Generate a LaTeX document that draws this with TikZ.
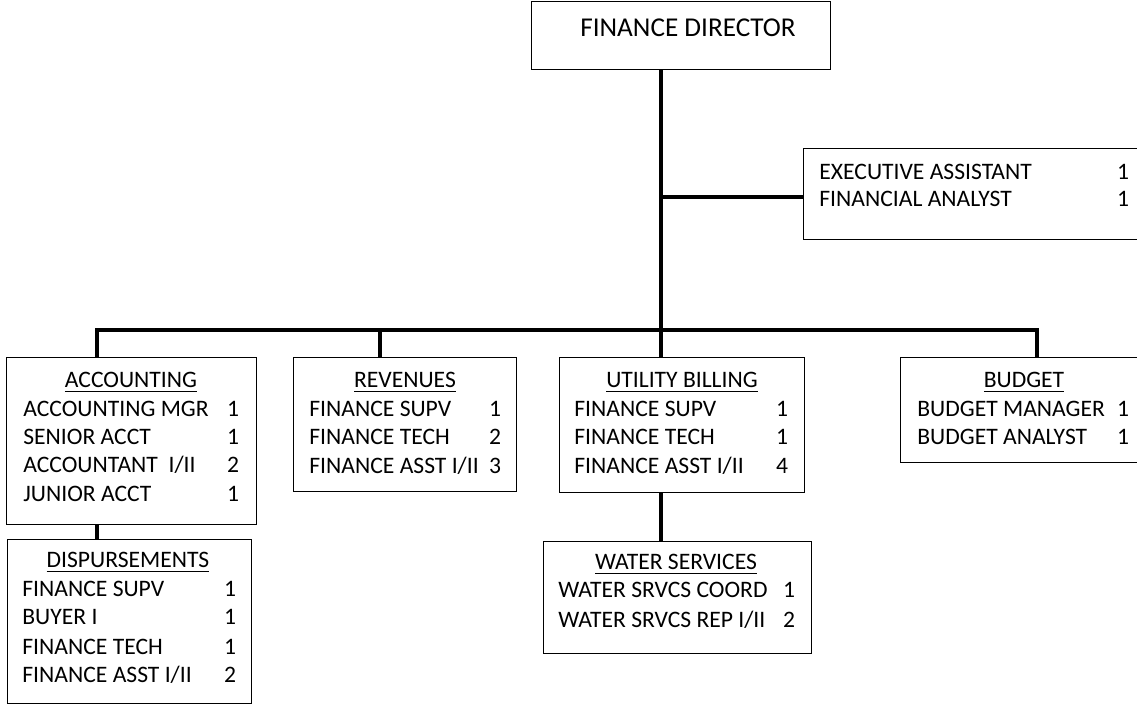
\documentclass[tikz,border=0pt]{standalone}
\usepackage{fontspec}
\setmainfont{Carlito}

\tikzset{
  box/.style={draw, line width=0.65pt, inner sep=0pt, anchor=north west},
  link/.style={line width=2pt, line join=miter},
  lbl/.style={inner sep=0pt, font=\fontsize{11.8pt}{14pt}\selectfont},
  head/.style={inner sep=0pt, font=\fontsize{13.6pt}{16pt}\selectfont},
}

\begin{document}
\begin{tikzpicture}[x=0.5pt, y=-0.5pt]
  \useasboundingbox (0,0) rectangle (1137,705);
  % boxes
  \node[box, minimum width=149.5pt, minimum height=34pt] (fd) at (531,1) {};
  \node[box, minimum width=170pt, minimum height=45.5pt] (exec) at (803,148) {};
  \node[box, minimum width=125pt, minimum height=83.5pt] (acct) at (6,357) {};
  \node[box, minimum width=122pt, minimum height=82pt] (disp) at (7,539) {};
  \node[box, minimum width=111.5pt, minimum height=67pt] (rev) at (293,357) {};
  \node[box, minimum width=122.5pt, minimum height=67.5pt] (util) at (559,357) {};
  \node[box, minimum width=125pt, minimum height=52.5pt] (budget) at (900,357) {};
  \node[box, minimum width=134pt, minimum height=56pt] (water) at (543,541) {};

  % connectors
  \coordinate (trunk) at (661,330);
  \coordinate (barL) at (97,330);
  \coordinate (barR) at (1037,330);
  \coordinate (revDrop) at (380,330);
  \draw[link] (fd.south -| trunk) -- (util.north -| trunk);
  \draw[link] ([yshift=-1.5pt]exec.west) -- ([yshift=-1.5pt]exec.west -| trunk);
  \draw[link] (acct.north -| barL) -- (barL) -- (barR) -- (budget.north -| barR);
  \draw[link] (revDrop) -- (rev.north -| revDrop);
  \draw[link] (acct.south -| barL) -- (disp.north -| barL);
  \draw[link] (util.south -| trunk) -- (water.north -| trunk);

  % titles
  \node[head, anchor=base] (fd-t) at (688,37) {FINANCE DIRECTOR};
  \node[lbl, anchor=base] (acct-t) at (131,388) {\underline{ACCOUNTING}};
  \node[lbl, anchor=base] (disp-t) at (128,568) {\underline{DISPURSEMENTS}};
  \node[lbl, anchor=base] (rev-t) at (405,388) {\underline{REVENUES}};
  \node[lbl, anchor=base] (util-t) at (682,388) {\underline{UTILITY BILLING}};
  \node[lbl, anchor=base] (budget-t) at (1024,388) {\underline{BUDGET}};
  \node[lbl, anchor=base] (water-t) at (676,570) {\underline{WATER SERVICES}};

  % staff rows
  \foreach \t/\n/\y [count=\i] in {EXECUTIVE ASSISTANT/1/180, FINANCIAL ANALYST/1/207}{
    \node[lbl, anchor=base west] (exec-n\i) at (819,\y) {\t};
    \node[lbl, anchor=base] (exec-c\i) at (1123,\y) {\n};
  }
  \foreach \t/\n/\y [count=\i] in {ACCOUNTING MGR/1/417, SENIOR ACCT/1/445,
      {ACCOUNTANT~ I/II}/2/473, JUNIOR ACCT/1/502}{
    \node[lbl, anchor=base west] (acct-n\i) at (23,\y) {\t};
    \node[lbl, anchor=base] (acct-c\i) at (233,\y) {\n};
  }
  \foreach \t/\n/\y [count=\i] in {FINANCE SUPV/1/597, BUYER I/1/625,
      FINANCE TECH/1/655, {FINANCE ASST I/II}/2/683}{
    \node[lbl, anchor=base west] (disp-n\i) at (22,\y) {\t};
    \node[lbl, anchor=base] (disp-c\i) at (230,\y) {\n};
  }
  \foreach \t/\n/\y [count=\i] in {FINANCE SUPV/1/417, FINANCE TECH/2/445,
      {FINANCE ASST I/II}/3/474}{
    \node[lbl, anchor=base west] (rev-n\i) at (309,\y) {\t};
    \node[lbl, anchor=base] (rev-c\i) at (495,\y) {\n};
  }
  \foreach \t/\n/\y [count=\i] in {FINANCE SUPV/1/417, FINANCE TECH/1/445,
      {FINANCE ASST I/II}/4/474}{
    \node[lbl, anchor=base west] (util-n\i) at (574,\y) {\t};
    \node[lbl, anchor=base] (util-c\i) at (782,\y) {\n};
  }
  \foreach \t/\n/\y [count=\i] in {BUDGET MANAGER/1/417, BUDGET ANALYST/1/445}{
    \node[lbl, anchor=base west] (budget-n\i) at (917,\y) {\t};
    \node[lbl, anchor=base] (budget-c\i) at (1123,\y) {\n};
  }
  \foreach \t/\n/\y [count=\i] in {WATER SRVCS COORD/1/598, {WATER SRVCS REP I/II}/2/628}{
    \node[lbl, anchor=base west] (water-n\i) at (558,\y) {\t};
    \node[lbl, anchor=base] (water-c\i) at (789,\y) {\n};
  }
\end{tikzpicture}
\end{document}
